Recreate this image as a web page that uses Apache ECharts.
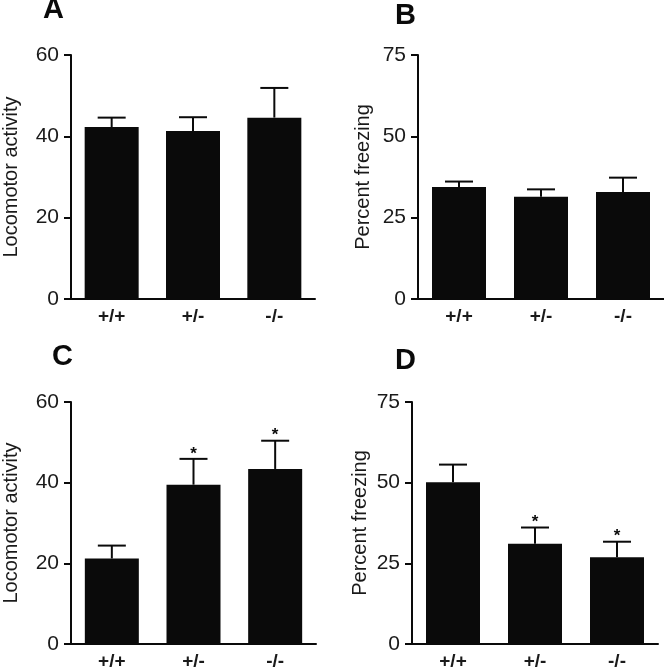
<!DOCTYPE html>
<html>
<head>
<meta charset="utf-8">
<script src="https://cdn.jsdelivr.net/npm/echarts@6/dist/echarts.min.js"></script>
<style>
html,body{margin:0;padding:0;background:#fff;}
#chart{width:664px;height:671px;}
</style>
</head>
<body>
<div id="chart"></div>
<script>
const categories = ['+/+', '+/-', '-/-'];
const panelLetters = ['A', 'B', 'C', 'D'];
const yNames = ['Locomotor activity', 'Percent freezing', 'Locomotor activity', 'Percent freezing'];
const locomotorTicks = [0, 20, 40, 60];
const freezingTicks = [0, 25, 50, 75];

const aMean = [42.3, 41.3, 44.6];
const aErr  = [2.3, 3.4, 7.3];
const aSig  = [false, false, false];

const bMean = [34.4, 31.4, 32.9];
const bErr  = [1.7, 2.3, 4.4];
const bSig  = [false, false, false];

const cMean = [21.2, 39.5, 43.4];
const cErr  = [3.2, 6.4, 7.0];
const cSig  = [false, true, true];

const dMean = [50.1, 31.1, 26.9];
const dErr  = [5.5, 5.0, 4.8];
const dSig  = [false, true, true];

const panels = [
  {mean: aMean, err: aErr, sig: aSig, ticks: locomotorTicks, grid: {left: 70, top: 55, width: 245, height: 244}, nameGap: 50, letter: [43, 10]},
  {mean: bMean, err: bErr, sig: bSig, ticks: freezingTicks, grid: {left: 418, top: 55, width: 246, height: 244}, nameGap: 45, letter: [395, 16]},
  {mean: cMean, err: cErr, sig: cSig, ticks: locomotorTicks, grid: {left: 71, top: 402, width: 245, height: 244}, nameGap: 50, letter: [52, 357]},
  {mean: dMean, err: dErr, sig: dSig, ticks: freezingTicks, grid: {left: 412, top: 402, width: 246, height: 244}, nameGap: 42, letter: [395, 361]}
];

const FONT = '"Liberation Sans", Arial, Helvetica, sans-serif';
const INK = '#0a0a0a';

const grids = [], xAxes = [], yAxes = [], series = [], graphics = [];

panels.forEach((p, i) => {
  grids.push(Object.assign({}, p.grid));
  const ticks = p.ticks;
  xAxes.push({
    type: 'category', gridIndex: i, data: categories,
    axisLine: {show: true, lineStyle: {color: INK, width: 2}},
    axisTick: {show: false},
    axisLabel: {color: '#1a1a1a', fontSize: 19, fontWeight: 'bold', fontFamily: FONT, margin: 8},
    splitLine: {show: false}
  });
  yAxes.push({
    type: 'value', gridIndex: i,
    min: ticks[0], max: ticks[ticks.length - 1], interval: ticks[1] - ticks[0],
    name: yNames[i], nameLocation: 'middle', nameGap: p.nameGap,
    nameTextStyle: {color: '#1a1a1a', fontSize: 20, fontFamily: FONT},
    axisLine: {show: true, lineStyle: {color: INK, width: 2}},
    axisTick: {show: true, inside: false, length: 7, lineStyle: {color: INK, width: 2}},
    axisLabel: {color: '#1a1a1a', fontSize: 21, fontFamily: FONT, margin: 12},
    splitLine: {show: false}
  });
  series.push({
    type: 'bar', xAxisIndex: i, yAxisIndex: i,
    data: p.mean, barWidth: 54,
    itemStyle: {color: INK},
    silent: true, animation: false
  });
  series.push({
    type: 'custom', xAxisIndex: i, yAxisIndex: i,
    data: p.mean.map((m, k) => [k, m, p.err[k], p.sig[k] ? 1 : 0]),
    encode: {x: 0, y: 1},
    z: 5, silent: true, animation: false,
    renderItem: function (params, api) {
      const idx = api.value(0), m = api.value(1), e = api.value(2), s = api.value(3);
      const base = api.coord([idx, m]);
      const top = api.coord([idx, m + e]);
      const half = 14;
      const children = [
        {type: 'line', shape: {x1: base[0], y1: base[1], x2: top[0], y2: top[1]}, style: {stroke: INK, lineWidth: 2}},
        {type: 'line', shape: {x1: top[0] - half, y1: top[1], x2: top[0] + half, y2: top[1]}, style: {stroke: INK, lineWidth: 2}}
      ];
      if (s) {
        children.push({type: 'text', x: top[0], y: top[1] - 5,
          style: {text: '*', fill: INK, fontSize: 17, fontFamily: FONT, fontWeight: 'bold', align: 'center', verticalAlign: 'middle'}});
      }
      return {type: 'group', children: children};
    }
  });
  graphics.push({
    type: 'text', left: p.letter[0], top: p.letter[1] - 15,
    style: {text: panelLetters[i], fill: INK, font: 'bold 29px ' + FONT}
  });
});

const chart = echarts.init(document.getElementById('chart'), null, {renderer: 'canvas'});
chart.setOption({
  backgroundColor: '#ffffff',
  animation: false,
  grid: grids,
  xAxis: xAxes,
  yAxis: yAxes,
  series: series,
  graphic: graphics
});
</script>
</body>
</html>
